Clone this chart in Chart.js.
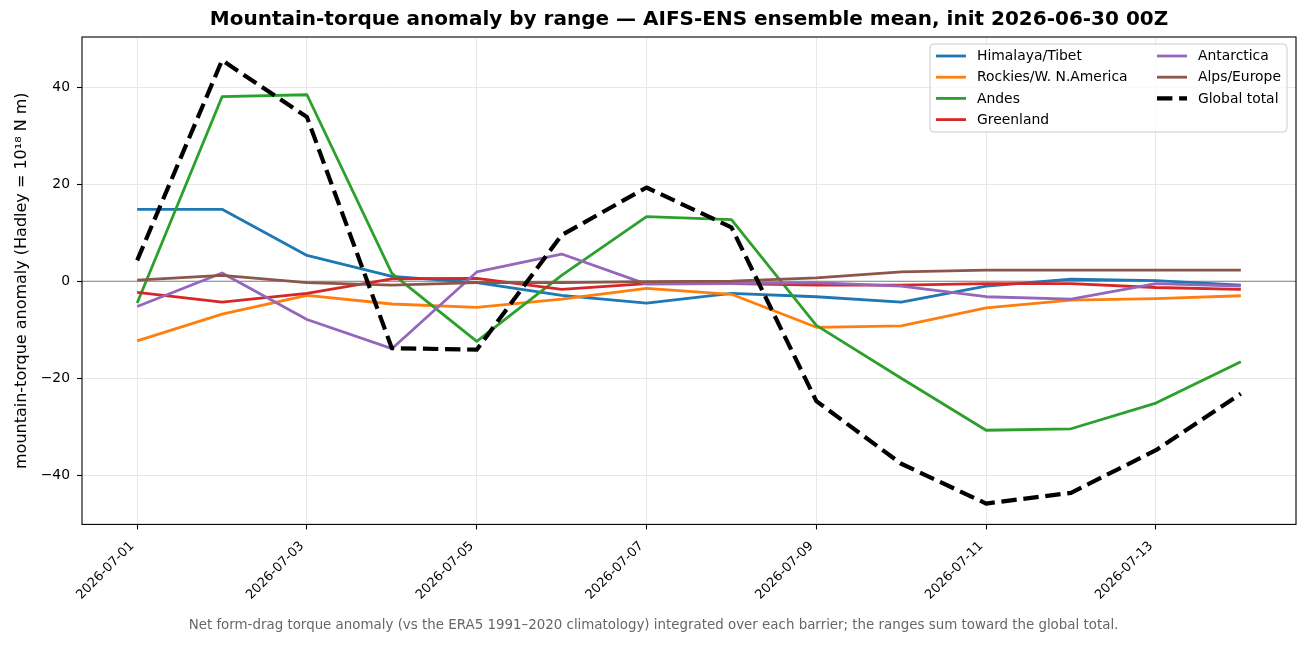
<!DOCTYPE html>
<html>
<head>
<meta charset="utf-8">
<script src="https://cdn.jsdelivr.net/npm/chart.js@4.4.1/dist/chart.umd.min.js"></script>
<style>
  html, body { margin: 0; padding: 0; background: #ffffff; }
  #wrap { width: 1307px; height: 646px; }
</style>
</head>
<body>
<div id="wrap"><canvas id="c" width="1307" height="646"></canvas></div>
<script>
// ---- data ----
const dates = ['2026-07-01','2026-07-02','2026-07-03','2026-07-04','2026-07-05','2026-07-06','2026-07-07',
               '2026-07-08','2026-07-09','2026-07-10','2026-07-11','2026-07-12','2026-07-13','2026-07-14'];
const xTickLabels = ['2026-07-01','2026-07-03','2026-07-05','2026-07-07','2026-07-09','2026-07-11','2026-07-13'];
const yTickValues = [-40, -20, 0, 20, 40];

const seriesNames = ['Himalaya/Tibet','Rockies/W. N.America','Andes','Greenland','Antarctica','Alps/Europe','Global total'];
const himalaya   = [14.8, 14.8, 5.3, 1.0, -0.3, -2.9, -4.5, -2.5, -3.2, -4.3, -1.0, 0.4, 0.1, -0.8];
const rockies    = [-12.3, -6.8, -2.9, -4.7, -5.4, -3.7, -1.5, -2.7, -9.5, -9.2, -5.5, -3.9, -3.6, -3.0];
const andes      = [-4.5, 38.0, 38.4, 1.6, -12.4, 1.2, 13.3, 12.7, -9.1, -20.0, -30.7, -30.4, -25.1, -16.6];
const greenland  = [-2.3, -4.3, -2.5, 0.5, 0.6, -1.7, -0.5, -0.5, -0.8, -0.8, -0.5, -0.5, -1.3, -1.7];
const antarctica = [-5.2, 1.7, -7.9, -13.9, 1.9, 5.6, -0.6, -0.5, -0.3, -1.0, -3.2, -3.7, -0.5, -1.0];
const alps       = [0.2, 1.2, -0.3, -0.8, -0.3, -0.3, -0.1, 0.0, 0.7, 1.9, 2.3, 2.3, 2.3, 2.3];
const globalTotal= [4.3, 45.5, 33.8, -13.8, -14.1, 9.5, 19.3, 11.1, -24.7, -37.6, -45.8, -43.6, -34.8, -23.2];

const seriesValues = [himalaya, rockies, andes, greenland, antarctica, alps, globalTotal];
const seriesColors = ['#1f77b4','#ff7f0e','#2ca02c','#d62728','#9467bd','#8c564b','#000000'];

// ---- styling ----
const FONT = "'DejaVu Sans', 'Liberation Sans', sans-serif";
const LW = 2.8, LW_TOTAL = 4.2, DASH = [15.4, 6.7];

const datasets = seriesValues.map((vals, i) => {
  const isTotal = i === seriesValues.length - 1;
  return {
    label: seriesNames[i],
    data: vals.map((v, k) => ({ x: k, y: v })),
    borderColor: seriesColors[i],
    backgroundColor: seriesColors[i],
    borderWidth: isTotal ? LW_TOTAL : LW,
    borderDash: isTotal ? DASH : [],
    borderCapStyle: 'butt',
    borderJoinStyle: 'round',
    pointRadius: 0,
    tension: 0,
    fill: false,
    order: seriesValues.length - 1 - i
  };
});

const framePlugin = {
  id: 'frame',
  beforeDatasetsDraw(chart) {
    const { ctx, chartArea, scales } = chart;
    const y0 = scales.y.getPixelForValue(0);
    ctx.save();
    ctx.strokeStyle = '#808080';
    ctx.lineWidth = 1.1;
    ctx.beginPath();
    ctx.moveTo(chartArea.left, y0);
    ctx.lineTo(chartArea.right, y0);
    ctx.stroke();
    ctx.restore();
  },
  afterDatasetsDraw(chart) {
    const { ctx, chartArea } = chart;
    ctx.save();
    ctx.strokeStyle = '#000';
    ctx.lineWidth = 1.1;
    ctx.strokeRect(chartArea.left, chartArea.top, chartArea.right - chartArea.left, chartArea.bottom - chartArea.top);
    ctx.restore();

    // legend (two columns, upper right)
    const fs = 13.9;
    const boxW = 357, boxH = 88;
    const bx = chartArea.right - 9 - boxW, by = chartArea.top + 7;
    ctx.save();
    ctx.globalAlpha = 0.8;
    ctx.fillStyle = '#fff';
    ctx.beginPath();
    ctx.roundRect(bx, by, boxW, boxH, 4);
    ctx.fill();
    ctx.globalAlpha = 1;
    ctx.strokeStyle = '#cccccc';
    ctx.lineWidth = 1;
    ctx.stroke();
    ctx.font = fs + 'px ' + FONT;
    ctx.textBaseline = 'middle';
    ctx.fillStyle = '#000';
    const rowH = 21.2;
    const colX = [bx + 6, bx + 227];
    chart.data.datasets.forEach((ds, i) => {
      const col = i < 4 ? 0 : 1;
      const row = i < 4 ? i : i - 4;
      const hx = colX[col];
      const hy = by + 12 + row * rowH;
      ctx.strokeStyle = ds.borderColor;
      ctx.lineWidth = ds.borderWidth;
      ctx.lineCap = 'butt';
      ctx.setLineDash(ds.borderDash || []);
      ctx.beginPath();
      ctx.moveTo(hx, hy);
      ctx.lineTo(hx + 30, hy);
      ctx.stroke();
      ctx.setLineDash([]);
      ctx.fillStyle = '#000';
      ctx.fillText(ds.label, hx + 41, hy + 0.5);
    });
    ctx.restore();
  }
};

new Chart(document.getElementById('c'), {
  type: 'line',
  data: { datasets },
  plugins: [framePlugin],
  options: {
    responsive: false,
    animation: false,
    layout: { padding: { left: 11, right: 11, top: 0, bottom: 0 } },
    plugins: {
      legend: { display: false },
      tooltip: { enabled: false },
      title: {
        display: true,
        fullSize: false,
        text: 'Mountain-torque anomaly by range \u2014 AIFS-ENS ensemble mean, init 2026-06-30 00Z',
        color: '#000',
        font: { family: FONT, size: 20, weight: 'bold', lineHeight: 1.2 },
        padding: { top: 8, bottom: 5 }
      },
      subtitle: {
        display: true,
        position: 'bottom',
        text: 'Net form-drag torque anomaly (vs the ERA5 1991\u20132020 climatology) integrated over each barrier; the ranges sum toward the global total.',
        color: '#666666',
        font: { family: FONT, size: 13.4, lineHeight: 1.2 },
        padding: { top: 13.5, bottom: 12 }
      }
    },
    scales: {
      x: {
        type: 'linear',
        min: -0.65,
        max: 13.65,
        afterBuildTicks(scale) {
          scale.ticks = xTickLabels.map(l => ({ value: dates.indexOf(l) }));
        },
        afterFit(scale) { scale.height = 80; },
        grid: { color: '#e7e7e7', lineWidth: 1, drawTicks: true, tickLength: 5, tickColor: '#000', tickWidth: 1.1 },
        border: { display: false },
        ticks: {
          autoSkip: false,
          minRotation: 45,
          maxRotation: 45,
          padding: 9,
          labelOffset: -5,
          color: '#000',
          font: { family: FONT, size: 13 },
          callback: (v) => dates[Math.round(v)]
        }
      },
      y: {
        type: 'linear',
        min: -50.1,
        max: 50.3,
        afterBuildTicks(scale) {
          scale.ticks = yTickValues.map(v => ({ value: v }));
        },
        afterFit(scale) { scale.width = 71; },
        grid: { color: '#e7e7e7', lineWidth: 1, drawTicks: true, tickLength: 5, tickColor: '#000', tickWidth: 1.1 },
        border: { display: false },
        ticks: {
          padding: 7,
          color: '#000',
          font: { family: FONT, size: 13.9 },
          callback: (v) => (v < 0 ? '\u2212' + Math.abs(v) : String(v))
        },
        title: {
          display: true,
          text: 'mountain-torque anomaly (Hadley = 10\u00b9\u2078 N m)',
          color: '#000',
          font: { family: FONT, size: 16, lineHeight: 1.2 },
          padding: { top: 1, bottom: 0 }
        }
      }
    }
  }
});
</script>
</body>
</html>
